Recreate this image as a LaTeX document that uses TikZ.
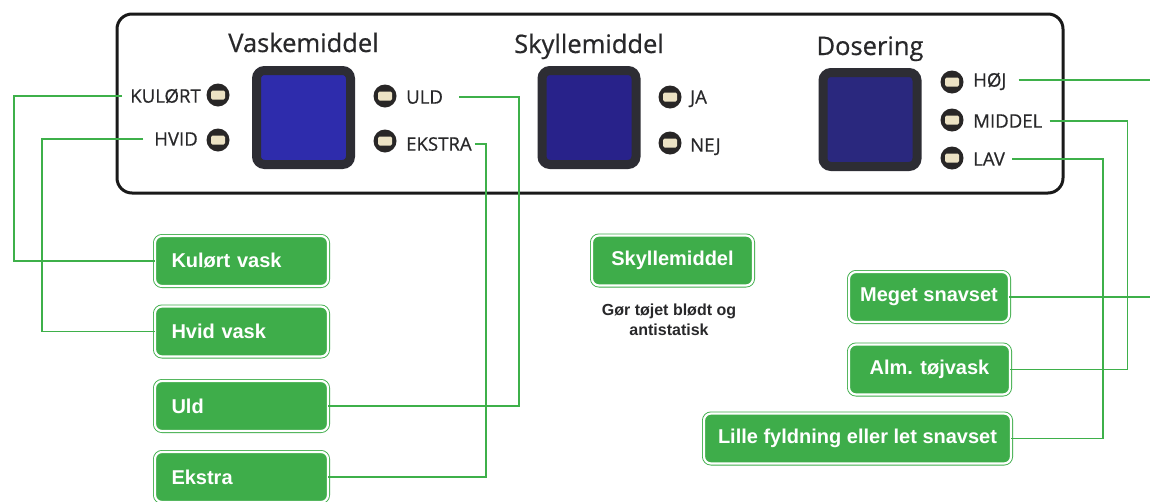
\documentclass[tikz,border=0pt]{standalone}
\usepackage{fontspec}
\setmainfont{Liberation Sans}
\newfontfamily\pfont[FakeBold=0.6]{Open Sans}
\definecolor{gr}{RGB}{62,173,74}
\definecolor{gline}{RGB}{62,176,74}
\definecolor{ink}{RGB}{40,40,42}
\definecolor{dispframe}{RGB}{45,45,52}
\definecolor{blueA}{RGB}{46,44,172}
\definecolor{blueB}{RGB}{40,34,138}
\definecolor{blueC}{RGB}{42,40,126}
\definecolor{ledring}{RGB}{40,38,38}
\definecolor{ledin}{RGB}{236,226,196}
\tikzset{
  gbox/.style={draw=gr, double=white, double distance=2.2pt, line width=0.9pt, fill=gr,
    rounded corners=7pt, text=white, font=\bfseries\fontsize{20}{22}\selectfont,
    minimum height=50pt, inner ysep=0pt},
  gleft/.style={gbox, text width=140pt, inner xsep=16.5pt, align=left},
  gcenter/.style={gbox, align=center, inner xsep=0pt},
  glink/.style={draw=gline, line width=1.6pt},
  plabel/.style={font=\pfont\fontsize{18.6}{20}\selectfont, text=ink, inner sep=0pt,
    text height=13.3pt, text depth=0pt},
  ptitle/.style={font=\pfont\fontsize{25.5}{28}\selectfont, text=ink, inner sep=0pt, anchor=base},
  display/.style={draw=dispframe, line width=9pt, rounded corners=8pt, minimum width=94pt,
    minimum height=94pt, inner sep=0pt},
  led/.style={circle, fill=ledring, minimum size=23pt, inner sep=0pt,
    path picture={\fill[ledin, rounded corners=1.5pt]
      ([shift={(-7pt,-4.5pt)}]path picture bounding box.center) rectangle
      ([shift={(7pt,4.5pt)}]path picture bounding box.center);}},
  note/.style={font=\bfseries\fontsize{16}{20}\selectfont, text=ink, align=center, inner sep=0pt}
}
\begin{document}
\begin{tikzpicture}[x=1pt,y=-1pt]
\useasboundingbox (0,0) rectangle (1150,501);
\fill[white] (0,0) rectangle (1150,501);

% panel
\draw[line width=3pt, rounded corners=15pt, draw=black!90] (117,14) rectangle (1063,193);

% titles
\node[ptitle] (tvask) at (303.5,52) {Vaskemiddel};
\node[ptitle] (tskyl) at (589,53) {Skyllemiddel};
\node[ptitle] (tdos) at (870,55) {Dosering};

% displays
\node[display, fill=blueA] (d1) at (303.5,117.5) {};
\node[display, fill=blueB] (d2) at (589,117.5) {};
\node[display, fill=blueC] (d3) at (870,119.5) {};

% LEDs
\node[led] (lkul) at (218,95) {};
\node[led] (lhvid) at (218,140) {};
\node[led] (luld) at (385,96) {};
\node[led] (lek) at (385,141) {};
\node[led] (lja) at (670,97) {};
\node[led] (lnej) at (670,143) {};
\node[led] (lhoj) at (952,82) {};
\node[led] (lmid) at (952,120) {};
\node[led] (llav) at (952,158) {};

% panel labels
\node[plabel, anchor=east] (kul) at (201,96) {KULØRT};
\node[plabel, anchor=east] (hvid) at (198,139) {HVID};
\node[plabel, anchor=west] (uld) at (406,97) {ULD};
\node[plabel, anchor=west] (ek) at (406,144) {EKSTRA};
\node[plabel, anchor=west] (ja) at (690,97) {JA};
\node[plabel, anchor=west] (nej) at (690,145) {NEJ};
\node[plabel, anchor=west] (hoj) at (973,80) {HØJ};
\node[plabel, anchor=west] (mid) at (973,121) {MIDDEL};
\node[plabel, anchor=west] (lav) at (973,159) {LAV};

% green boxes
\node[gleft] (bkul) at (241.5,261) {Kulørt vask};
\node[gleft] (bhvid) at (241.5,331.5) {Hvid vask};
\node[gleft] (buld) at (241.5,406) {Uld};
\node[gleft] (bek) at (241.5,477) {Ekstra};
\node[gcenter, minimum width=161pt] (bskyl) at (672.5,260.5) {Skyllemiddel};
\node[note] (nskyl) at (669,320) {Gør tøjet blødt og\\antistatisk};
\node[gcenter, minimum width=160pt] (bmeg) at (929,297) {Meget snavset};
\node[gcenter, minimum width=161pt] (balm) at (929.5,369.5) {Alm. tøjvask};
\node[gcenter, minimum width=307pt] (blil) at (857.5,438.5) {Lille fyldning eller let snavset};

% free ends at the right edge
\coordinate (hojend) at (1150,80);
\coordinate (megend) at (1150,297);

% connectors
\draw[glink] ([xshift=-8pt]kul.west) -- ++(-108,0) |- (bkul.west);
\draw[glink] ([xshift=-11pt]hvid.west) -- ++(-101,0) |- (bhvid.west);
\draw[glink] ([xshift=16pt]uld.east) -- ++(60,0) |- (buld.east);
\draw[glink] ([xshift=3pt]ek.east) -- ++(11,0) |- (bek.east);
\draw[glink] ([xshift=12pt]hoj.east) -- (hojend);
\draw[glink] (bmeg.east) -- (megend);
\draw[glink] ([xshift=7pt]mid.east) -- ++(78,0) |- (balm.east);
\draw[glink] ([xshift=7pt]lav.east) -- ++(91,0) |- (blil.east);
\end{tikzpicture}
\end{document}
